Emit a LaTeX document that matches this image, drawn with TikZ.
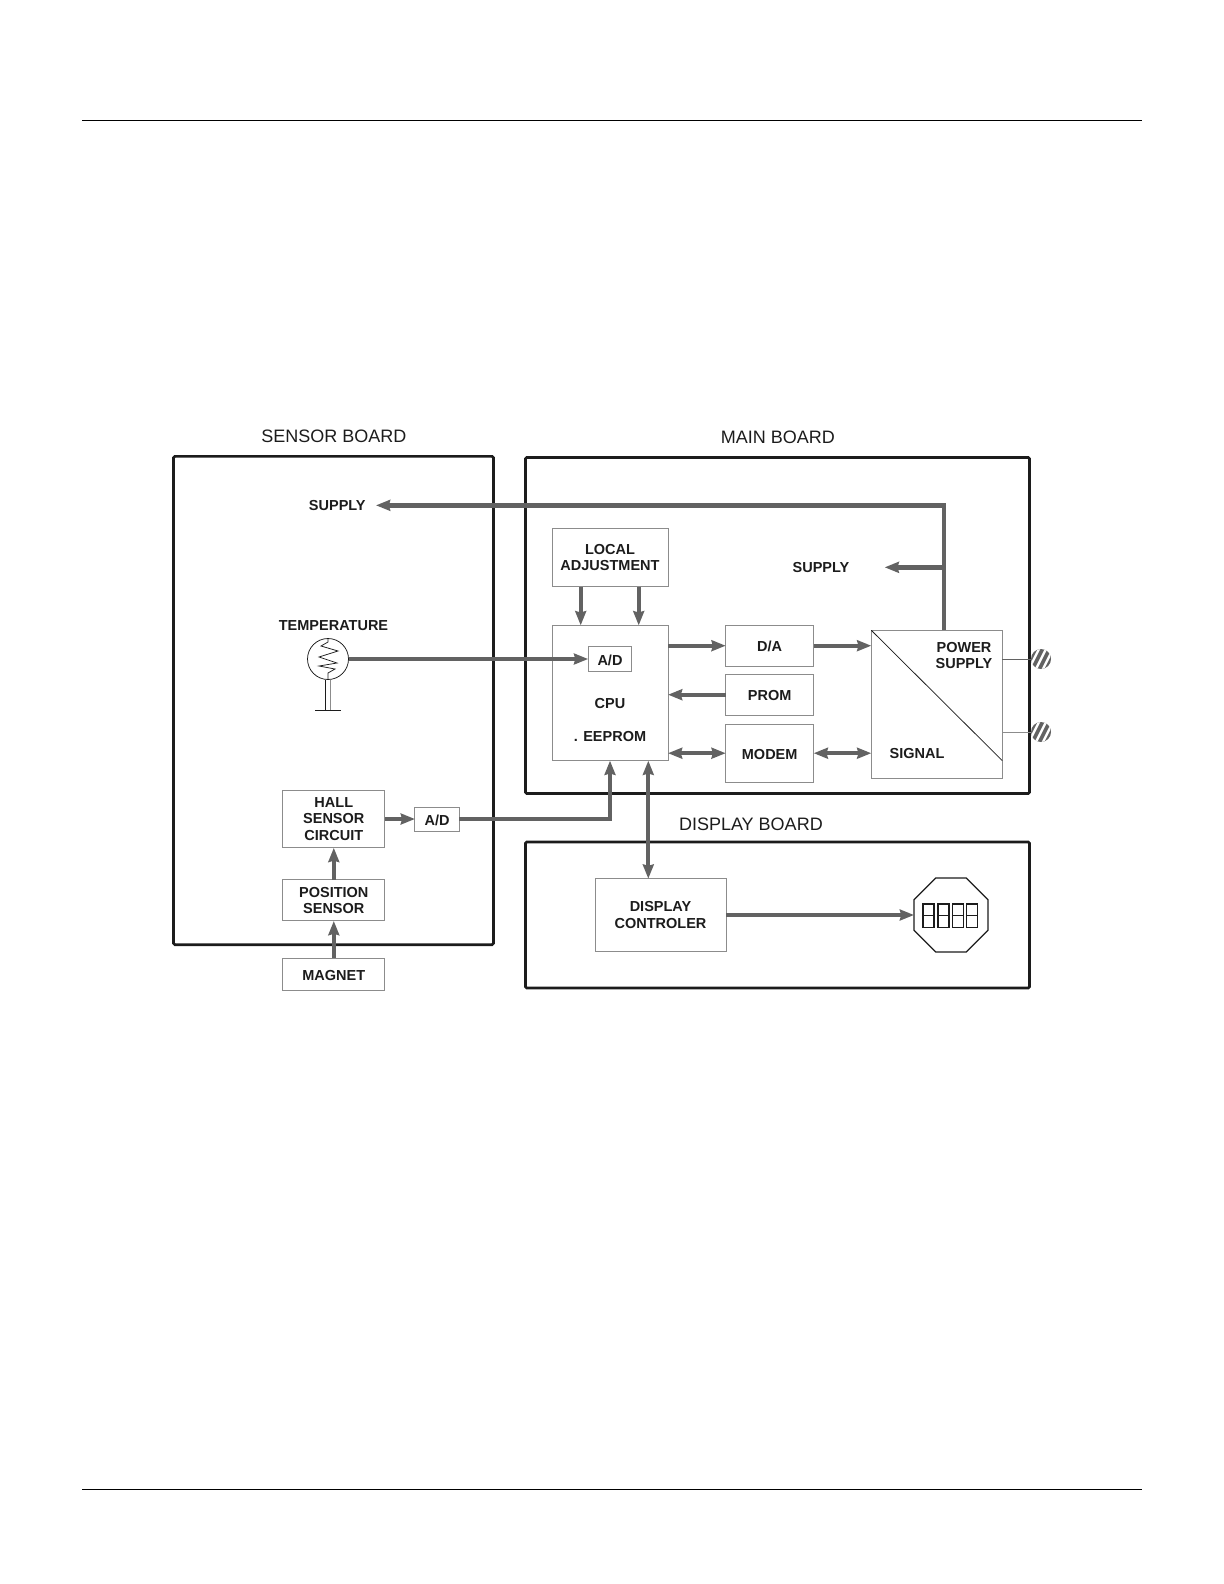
\documentclass[tikz,border=0pt]{standalone}
\usepackage{fontspec}
\setmainfont{Liberation Sans}
\usetikzlibrary{shapes.geometric, arrows.meta}
\definecolor{arrgray}{RGB}{98,98,98}
\definecolor{boxgray}{RGB}{140,140,140}
\definecolor{inkdark}{RGB}{28,28,28}
\tikzset{
  board/.style={draw=inkdark, line width=1.6pt, rectangle, rounded corners=0.8pt, inner sep=0pt, outer sep=0pt},
  blk/.style={draw=boxgray, line width=0.6pt, rectangle, inner sep=0pt, outer sep=0pt, align=center,
    text=inkdark, font=\fontsize{8.7}{9.7}\selectfont\bfseries, execute at begin node={\rule{0pt}{7.6pt}}},
  lbl/.style={text=inkdark, inner sep=0pt, align=center, yshift=-0.5pt, font=\fontsize{8.7}{9.7}\selectfont\bfseries},
  title/.style={text=inkdark, inner sep=0pt, font=\fontsize{10.8}{12}\selectfont},
  arr/.style={-{Stealth[length=8.5pt, width=6.5pt, inset=0.8pt]}, line width=2.6pt, draw=arrgray},
  darr/.style={arr, {Stealth[length=8.5pt, width=6.5pt, inset=0.8pt]}-{Stealth[length=8.5pt, width=6.5pt, inset=0.8pt]}},
  thinl/.style={draw=inkdark, line width=0.45pt},
  nut/.style={circle, fill=arrgray, minimum size=12pt, inner sep=0pt, outer sep=0pt},
  digit/.style={draw=inkdark, line width=0.8pt, rectangle, minimum width=6.6pt, minimum height=14pt,
    inner sep=0pt, outer sep=0pt},
}
\begin{document}
\begin{tikzpicture}[x=0.6pt, y=-0.6pt]
  \useasboundingbox (0,0) rectangle (1224,1584);
  % page rules
  \coordinate (topl) at (82,120.5);
  \coordinate (topr) at (1142,120.5);
  \coordinate (botl) at (82,1489);
  \coordinate (botr) at (1142,1489);
  \draw[line width=0.6pt] (topl) -- (topr);
  \draw[line width=0.6pt] (botl) -- (botr);

  % the three boards
  \node[board, minimum width=192pt, minimum height=293pt]   (sensor) at (333.5,700.5) {};
  \node[board, minimum width=302.4pt, minimum height=201.6pt] (main) at (777.5,625.5) {};
  \node[board, minimum width=302.4pt, minimum height=87.6pt]  (dboard) at (777.5,915) {};
  \node[title] (tsensor) at (333.8,436.5)  {SENSOR BOARD};
  \node[title] (tmain)   at (777.9,437.5)  {MAIN BOARD};
  \node[title] (tdisp)   at (750.9,824.5)  {DISPLAY BOARD};

  % main board
  \node[blk, minimum width=69.6pt, minimum height=35pt]   (adjust) at (610,557.5) {LOCAL\\ADJUSTMENT};
  \node[blk, minimum width=69.6pt, minimum height=81.2pt] (cpu)    at (610,693) {};
  \node[blk, minimum width=26.2pt, minimum height=15pt]   (adc)    at (610,659) {A/D};
  \node[lbl] (cputxt) at (610,703) {CPU};
  \node[lbl] (eeprom) at (610,735.5) {. EEPROM};
  \node[blk, minimum width=52.8pt, minimum height=24.8pt] (da)     at (769.7,645.7) {D/A};
  \node[blk, minimum width=52.8pt, minimum height=24.8pt] (prom)   at (769.7,694.7) {PROM};
  \node[blk, minimum width=52.8pt, minimum height=35pt]   (modem)  at (769.7,753.2) {MODEM};
  \node[blk, minimum width=78.6pt, minimum height=88.8pt] (power)  at (936.8,704.3) {};
  \node[lbl] (ptxt)   at (964,655) {POWER\\SUPPLY};
  \node[lbl] (sigtxt) at (917,753) {SIGNAL};
  \node[lbl] (sup1)   at (337.3,504.5) {SUPPLY};
  \node[lbl] (sup2)   at (821,566.5) {SUPPLY};
  \node[nut] (nut1)   at (1041,659) {};
  \node[nut] (nut2)   at (1041,732) {};

  % sensor board
  \node[lbl] (temptxt) at (333.5,625) {TEMPERATURE};
  \node[circle, thinl, minimum size=24.6pt, inner sep=0pt, outer sep=0pt] (temp) at (328,659) {};
  \coordinate (tbase) at (328,710);
  \node[blk, minimum width=61.2pt, minimum height=34.6pt] (hall)   at (333.8,819) {HALL\\SENSOR\\CIRCUIT};
  \node[blk, minimum width=26.7pt, minimum height=14.4pt] (adh)    at (437.2,819) {A/D};
  \node[blk, minimum width=61.2pt, minimum height=24.8pt] (pos)    at (333.8,900.3) {POSITION\\SENSOR};
  \node[blk, minimum width=61.2pt, minimum height=19.4pt] (magnet) at (333.8,974.5) {MAGNET};

  % display board
  \node[blk, minimum width=78.6pt, minimum height=43.6pt] (dctrl) at (660.5,915) {DISPLAY\\CONTROLER};
  \node[regular polygon, regular polygon sides=8, draw=inkdark, line width=0.8pt,
    minimum size=48pt, inner sep=0pt, outer sep=0pt] (disp) at (951,915) {};
  \foreach \n/\dx in {1/928.5, 2/943.5, 3/957.8, 4/972} {
    \node[digit] (dig\n) at (\dx,915.5) {};
    \draw[draw=inkdark, line width=0.7pt] (dig\n.west) -- (dig\n.east);
  }

  % thermistor
  \draw[thinl, shift={(temp.center)}] (0,-20) -- (0,-17) -- (-7,-13) -- (10,-8) -- (-9,-2) -- (9,4)
    -- (-9,7) -- (7,10) -- (0,14) -- (0,20);
  \draw[draw=inkdark, line width=0.7pt] ([xshift=-1.6pt]temp.south) -- ([xshift=-1.6pt]tbase);
  \draw[draw=boxgray, line width=0.5pt] ([xshift=1.4pt]temp.south) -- ([xshift=1.4pt]tbase);
  \draw[thinl] ([xshift=-7.8pt]tbase) -- ([xshift=7.8pt]tbase);

  % hatching of the terminals
  \foreach \n in {nut1, nut2} {
    \begin{scope}
      \clip (\n.center) circle (6pt);
      \foreach \d in {-4.2, 0, 4.2}
        \draw[white, line width=1.4pt] ([xshift=\d pt-3.5pt, yshift=-7pt]\n.center) -- ([xshift=\d pt+3.5pt, yshift=7pt]\n.center);
    \end{scope}
  }

  % connectors
  \coordinate (adjl) at (580.7,600);
  \coordinate (adjr) at (638.7,600);
  \coordinate (dbus) at (648.3,800);
  \coordinate (trunk) at (944,566.5);
  \draw[arr] (adjl |- adjust.south) -- (adjl |- cpu.north);
  \draw[arr] (adjr |- adjust.south) -- (adjr |- cpu.north);
  \draw[arr] (cpu.east |- da.west) -- (da.west);
  \draw[arr] (prom.west) -- (prom.west -| cpu.east);
  \draw[darr] (cpu.east |- modem.west) -- (modem.west);
  \draw[darr] (modem.east) -- (modem.east -| power.west);
  \draw[arr] (da.east) -- (da.east -| power.west);
  \draw[arr] (trunk |- power.north) |- ([xshift=6pt]sup1.east);
  \draw[arr] (trunk |- sup2.east) -- ([xshift=21pt]sup2.east);
  \draw[thinl] (power.north west) -- ([yshift=10.6pt]power.south east);
  \draw[draw=arrgray, line width=0.6pt] (power.east |- nut1) -- (nut1);
  \draw[draw=boxgray, line width=0.6pt] (power.east |- nut2) -- (nut2);
  \draw[arr] (temp.east) -- (adc.west);
  \draw[arr] (magnet.north) -- (pos.south);
  \draw[arr] (pos.north) -- (hall.south);
  \draw[arr] (hall.east) -- (adh.west);
  \draw[arr, line width=2pt] (adh.east) -| (cpu.south);
  \draw[darr] (dbus |- cpu.south) -- (dbus |- dctrl.north);
  \draw[arr] (dctrl.east) -- (disp.west);
\end{tikzpicture}
\end{document}
